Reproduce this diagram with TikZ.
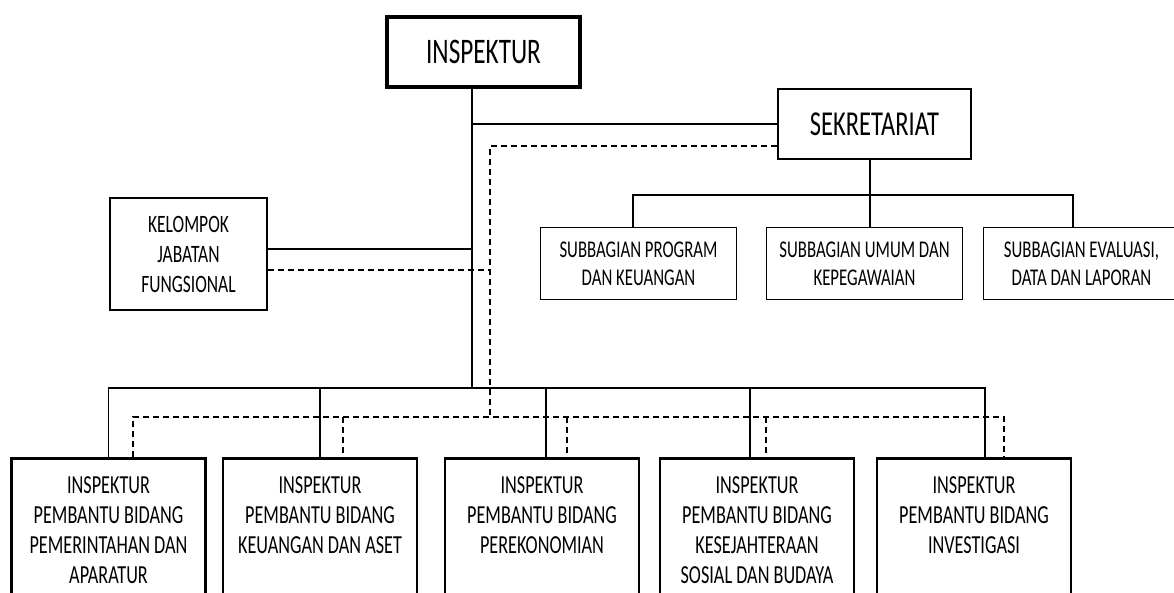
\documentclass[tikz,border=0pt]{standalone}
\usepackage{fontspec}
\setmainfont{Carlito}[FakeStretch=0.7]
\usetikzlibrary{positioning}

% top-aligned text for the tall boxes at the bottom
\newcommand{\ipb}[1]{\parbox[t][150pt][t]{190pt}{\centering #1}}

\begin{document}
\begin{tikzpicture}[x=1pt,y=-1pt,
    unit/.style={draw, line width=2.4pt, align=center, inner sep=0pt},
    subunit/.style={draw, line width=1.6pt, align=center, inner sep=0pt,
                    minimum width=196pt, minimum height=72pt,
                    font=\fontsize{24}{28}\selectfont},
    ipunit/.style={draw, line width=2.6pt, anchor=north, inner xsep=0pt, inner ysep=18pt,
                   minimum width=194pt, font=\fontsize{26}{30}\selectfont},
    conn/.style={line width=1.2pt},
    dashline/.style={line width=1.5pt, dash pattern=on 6pt off 4pt}]
  \useasboundingbox (0,0) rectangle (1174,592);

  \node[unit, line width=4pt, minimum width=193pt, minimum height=70pt,
        font=\fontsize{36}{40}\selectfont] (ins) at (483.5,52) {INSPEKTUR};
  \node[unit, minimum width=193pt, minimum height=70pt,
        font=\fontsize{35}{40}\selectfont] (sek) at (874.5,124) {SEKRETARIAT};
  \node[unit, minimum width=157pt, minimum height=112pt,
        font=\fontsize{25}{30}\selectfont] (jf) at (188.5,254) {KELOMPOK\\JABATAN\\FUNGSIONAL};

  \node[subunit] (sub1) at (638.5,263.5) {SUBBAGIAN PROGRAM\\DAN KEUANGAN};
  \node[subunit] (sub2) at (864.5,263.5) {SUBBAGIAN UMUM DAN\\KEPEGAWAIAN};
  \node[subunit] (sub3) at (1081.5,263.5) {SUBBAGIAN EVALUASI,\\DATA DAN LAPORAN};

  \node[ipunit] (ip1) at (108.5,457) {\ipb{INSPEKTUR\\PEMBANTU BIDANG\\PEMERINTAHAN DAN\\APARATUR}};
  \node[ipunit] (ip2) at (320,457) {\ipb{INSPEKTUR\\PEMBANTU BIDANG\\KEUANGAN DAN ASET}};
  \node[ipunit] (ip3) at (542,457) {\ipb{INSPEKTUR\\PEMBANTU BIDANG\\PEREKONOMIAN}};
  \node[ipunit] (ip4) at (757,457) {\ipb{INSPEKTUR\\PEMBANTU BIDANG\\KESEJAHTERAAN\\SOSIAL DAN BUDAYA}};
  \node[ipunit] (ip5) at (974,457) {\ipb{INSPEKTUR\\PEMBANTU BIDANG\\INVESTIGASI}};

  \coordinate (trunk) at ([xshift=-11.5pt]ins.south);
  \coordinate (bus) at (472,388);
  \coordinate (dbus) at (490,417);
  \coordinate (sbus) at (870,195);
  \coordinate (jfs) at ([yshift=5pt]jf.east);
  \coordinate (jfd) at ([yshift=-16pt]jf.east);
  \coordinate (sekd) at ([yshift=-22pt]sek.west);

  % solid lines
  \draw[conn] (trunk) -- (bus);
  \draw[conn] (trunk |- sek.west) -- (sek.west);
  \draw[conn] (jfs) -- (trunk |- jfs);
  \draw[conn] (sbus |- sek.south) -- (sbus |- sub2.north);
  \draw[conn] ([xshift=-5.5pt]sub1.north) |- (sbus) -| ([xshift=-8.5pt]sub3.north);
  \draw[conn] (ip1.north) |- ([xshift=11pt]ip5.north |- bus) -- ([xshift=11pt]ip5.north);
  \draw[conn] (ip2.north |- bus) -- (ip2.north);
  \draw[conn] ([xshift=4pt]ip3.north |- bus) -- ([xshift=4pt]ip3.north);
  \draw[conn] ([xshift=-7pt]ip4.north |- bus) -- ([xshift=-7pt]ip4.north);

  % dashed lines
  \draw[dashline] (sekd) -| (dbus);
  \draw[dashline] (jfd) -- (dbus |- jfd);
  \draw[dashline] ([xshift=24.5pt]ip1.north) |- ([xshift=30pt]ip5.north |- dbus) -- ([xshift=30pt]ip5.north);
  \draw[dashline] ([xshift=23pt]ip2.north |- dbus) -- ([xshift=23pt]ip2.north);
  \draw[dashline] ([xshift=25pt]ip3.north |- dbus) -- ([xshift=25pt]ip3.north);
  \draw[dashline] ([xshift=9pt]ip4.north |- dbus) -- ([xshift=9pt]ip4.north);
\end{tikzpicture}
\end{document}
